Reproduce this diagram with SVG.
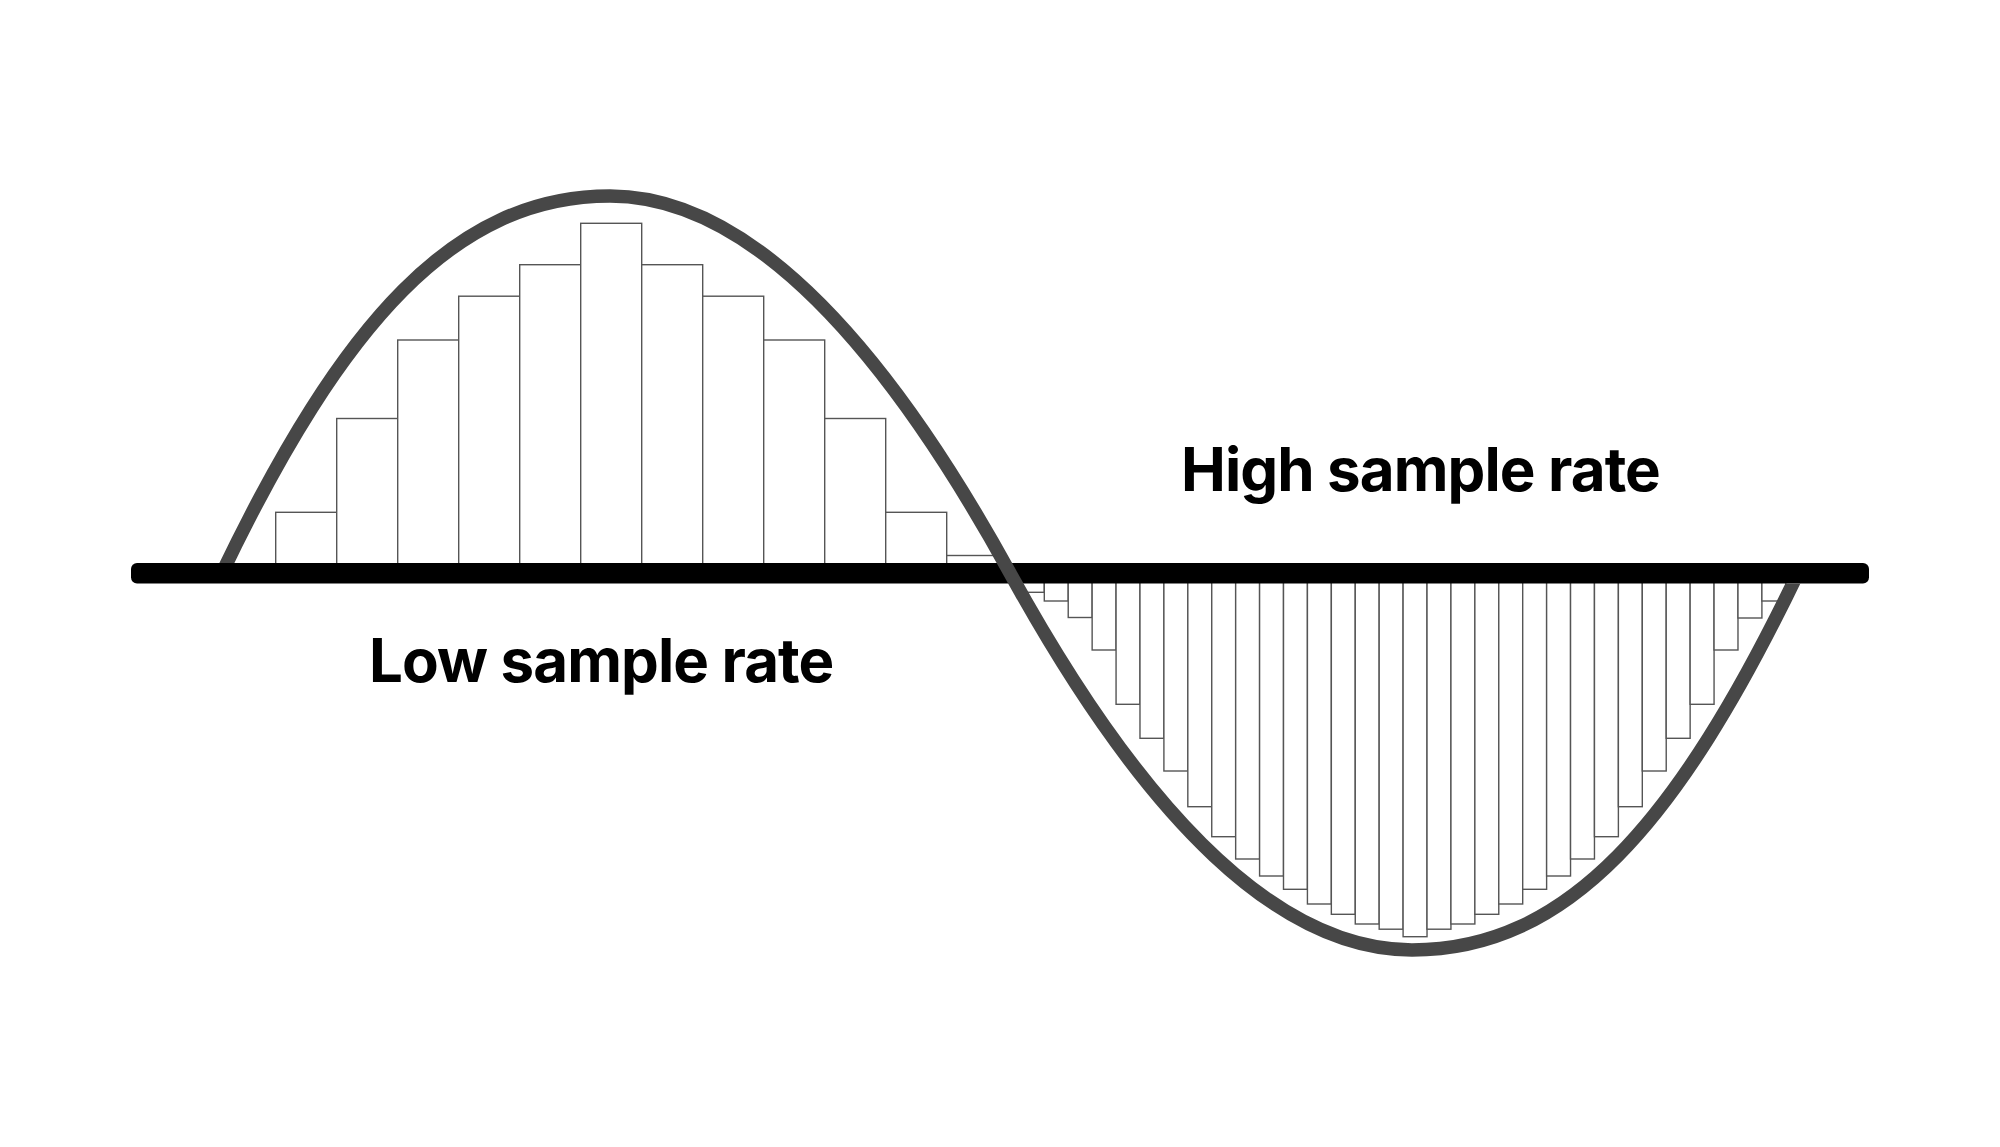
<svg xmlns="http://www.w3.org/2000/svg" width="2000" height="1147" viewBox="0 0 2000 1147">
<style>
.bar{fill:#ffffff;stroke:#555555;stroke-width:1.4}
.axis{fill:#000000}
.wave{fill:none;stroke:#474747;stroke-width:13.5}
.label{font-family:Inter,"Liberation Sans",sans-serif;font-weight:700;font-size:60px;letter-spacing:-0.9px;fill:#000000}
</style>
<defs>
<clipPath id="waveClip">
<rect x="0" y="0" width="2000" height="563"/>
<rect x="0" y="583.5" width="2000" height="564"/>
<rect x="300" y="560" width="1400" height="30"/>
</clipPath>
</defs>
<rect x="0" y="0" width="2000" height="1147" fill="#ffffff"/>
<g id="low-samples">
<rect class="bar" x="275.7" y="512.3" width="61" height="52"/>
<rect class="bar" x="336.7" y="418.5" width="61" height="146"/>
<rect class="bar" x="397.7" y="340" width="61" height="224"/>
<rect class="bar" x="458.7" y="296.2" width="61" height="268"/>
<rect class="bar" x="519.7" y="264.7" width="61" height="300"/>
<rect class="bar" x="580.7" y="223.3" width="61" height="341"/>
<rect class="bar" x="641.7" y="264.7" width="61" height="300"/>
<rect class="bar" x="702.7" y="296.2" width="61" height="268"/>
<rect class="bar" x="763.7" y="340" width="61" height="224"/>
<rect class="bar" x="824.7" y="418.5" width="61" height="146"/>
<rect class="bar" x="885.7" y="512.3" width="61" height="52"/>
<rect class="bar" x="946.7" y="555.5" width="52" height="9"/>
</g>
<g id="high-samples">
<rect class="bar" x="1020.38" y="581" width="23.92" height="11.3"/>
<rect class="bar" x="1044.30" y="581" width="23.92" height="20"/>
<rect class="bar" x="1068.22" y="581" width="23.92" height="36.5"/>
<rect class="bar" x="1092.14" y="581" width="23.92" height="69"/>
<rect class="bar" x="1116.06" y="581" width="23.92" height="123.3"/>
<rect class="bar" x="1139.98" y="581" width="23.92" height="157.3"/>
<rect class="bar" x="1163.90" y="581" width="23.92" height="190"/>
<rect class="bar" x="1187.82" y="581" width="23.92" height="225.7"/>
<rect class="bar" x="1211.74" y="581" width="23.92" height="255.7"/>
<rect class="bar" x="1235.66" y="581" width="23.92" height="278"/>
<rect class="bar" x="1259.58" y="581" width="23.92" height="295"/>
<rect class="bar" x="1283.50" y="581" width="23.92" height="308.3"/>
<rect class="bar" x="1307.42" y="581" width="23.92" height="323"/>
<rect class="bar" x="1331.34" y="581" width="23.92" height="333.3"/>
<rect class="bar" x="1355.26" y="581" width="23.92" height="343"/>
<rect class="bar" x="1379.18" y="581" width="23.92" height="348.2"/>
<rect class="bar" x="1403.10" y="581" width="23.92" height="355.7"/>
<rect class="bar" x="1427.02" y="581" width="23.92" height="348.2"/>
<rect class="bar" x="1450.94" y="581" width="23.92" height="343"/>
<rect class="bar" x="1474.86" y="581" width="23.92" height="333.3"/>
<rect class="bar" x="1498.78" y="581" width="23.92" height="323"/>
<rect class="bar" x="1522.70" y="581" width="23.92" height="308.3"/>
<rect class="bar" x="1546.62" y="581" width="23.92" height="295"/>
<rect class="bar" x="1570.54" y="581" width="23.92" height="278"/>
<rect class="bar" x="1594.46" y="581" width="23.92" height="255.7"/>
<rect class="bar" x="1618.38" y="581" width="23.92" height="225.7"/>
<rect class="bar" x="1642.30" y="581" width="23.92" height="190"/>
<rect class="bar" x="1666.22" y="581" width="23.92" height="157.3"/>
<rect class="bar" x="1690.14" y="581" width="23.92" height="123.3"/>
<rect class="bar" x="1714.06" y="581" width="23.92" height="69"/>
<rect class="bar" x="1737.98" y="581" width="23.92" height="37"/>
<rect class="bar" x="1761.90" y="581" width="23.92" height="20"/>
</g>
<g id="axis">
<rect class="axis" x="131" y="563" width="1738" height="20.5" rx="6"/>
</g>
<g id="wave">
<path class="wave" clip-path="url(#waveClip)" d="M222,573 C342.7,321.7 455,196 610,196 C738.4,196 871.7,321.7 1010,573 C1148.3,824.3 1281.6,950 1412,950 C1567,950 1677.3,824.3 1798,573"/>
</g>
<g id="labels">
<text class="label" x="369" y="682">Low sample rate</text>
<text class="label" x="1181" y="491">High sample rate</text>
</g>
</svg>
